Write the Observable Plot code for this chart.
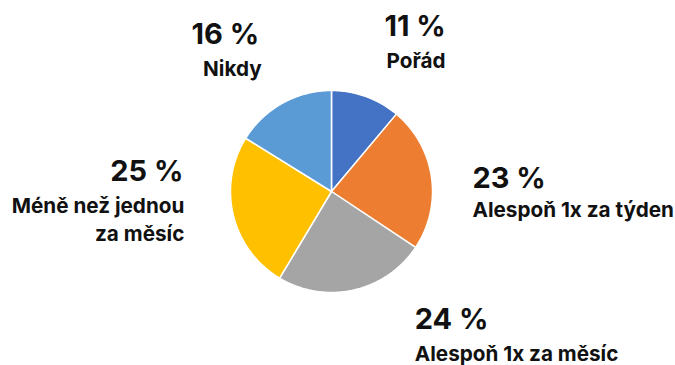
<!DOCTYPE html>
<html>
<head>
<meta charset="utf-8">
<script src="https://cdn.jsdelivr.net/npm/d3@7"></script>
<script src="https://cdn.jsdelivr.net/npm/@observablehq/plot@0.6"></script>
<style>
  html, body { margin: 0; padding: 0; background: #ffffff; }
  #chart { width: 675px; height: 365px; }
</style>
</head>
<body>
<div id="chart"></div>
<script>
// ---- data ----
const categories = ["Pořád", "Alespoň 1x za týden", "Alespoň 1x za měsíc", "Méně než jednou\nza měsíc", "Nikdy"];
const values = [11, 23, 24, 25, 16];
const pctLabels = ["11 %", "23 %", "24 %", "25 %", "16 %"];
const colors = ["#4472C4", "#ED7D31", "#A5A5A5", "#FFC000", "#5B9BD5"];

// ---- layout (pixels) ----
const W = 675, H = 365;
const cx = 331, cy = 191, R = 101;
// per-slice label offsets from the slice's mid-point on the rim
const labelLayout = [
  {anchor: "middle", pdx: 49, pdy: -61, ldx: 50, ldy: -29},
  {anchor: "start",  pdx: 41, pdy: 11,  ldx: 41, ldy: 40},
  {anchor: "start",  pdx: 61, pdy: 39,  ldx: 61, ldy: 71},
  {anchor: "end",    pdx: -50, pdy: -34, ldx: -49, ldy: 26},
  {anchor: "middle", pdx: -57, pdy: -59, ldx: -50, ldy: -27}
];

// ---- pie geometry via d3.pie (data units: radius = 1) ----
const pie = d3.pie().sort(null).value(d => d)(values);
const polyPts = [];
pie.forEach((s, i) => {
  polyPts.push({cat: categories[i], x: 0, y: 0});
  const n = Math.max(8, Math.ceil((s.endAngle - s.startAngle) / (Math.PI / 360)));
  for (let k = 0; k <= n; k++) {
    const a = s.startAngle + (s.endAngle - s.startAngle) * k / n;
    polyPts.push({cat: categories[i], x: Math.sin(a), y: Math.cos(a)});
  }
});
const mids = pie.map((s, i) => {
  const a = (s.startAngle + s.endAngle) / 2;
  return {i, cat: categories[i], pct: pctLabels[i], x: Math.sin(a), y: Math.cos(a)};
});

const textMarks = [];
mids.forEach((m, i) => {
  const L = labelLayout[i];
  textMarks.push(Plot.text([m], {
    x: "x", y: "y", text: "pct", textAnchor: L.anchor, lineAnchor: "bottom",
    dx: L.pdx, dy: L.pdy, fontSize: 29, fontWeight: 700, fill: "#111111"
  }));
  textMarks.push(Plot.text([m], {
    x: "x", y: "y", text: "cat", textAnchor: L.anchor, lineAnchor: "bottom",
    dx: L.ldx, dy: L.ldy, fontSize: 20.7, fontWeight: 700, fill: "#111111", lineHeight: 1.36
  }));
});

const chart = Plot.plot({
  width: W, height: H,
  marginTop: 0, marginRight: 0, marginBottom: 0, marginLeft: 0,
  style: {fontFamily: "Inter, 'Noto Sans', sans-serif", background: "#ffffff"},
  x: {domain: [-cx / R, (W - cx) / R], axis: null},
  y: {domain: [-(H - cy) / R, cy / R], axis: null},
  color: {domain: categories, range: colors},
  marks: [
    Plot.line(polyPts, {x: "x", y: "y", z: "cat", fill: "cat", stroke: "white", strokeWidth: 1.5, curve: "linear-closed"}),
    ...textMarks
  ]
});
document.getElementById("chart").appendChild(chart);
</script>
</body>
</html>
